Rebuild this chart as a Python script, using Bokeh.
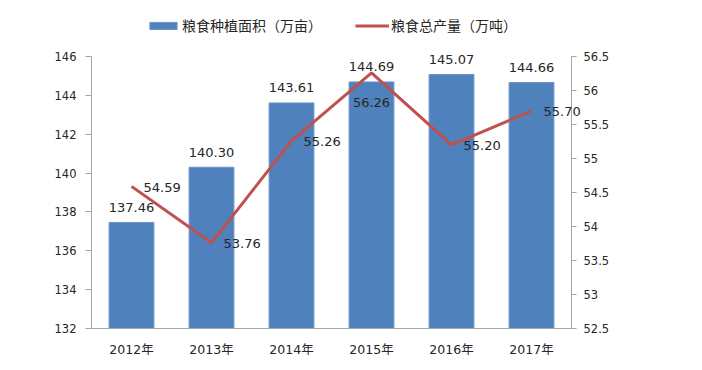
from bokeh.plotting import figure
from bokeh.models import (Range1d, LinearAxis, FactorRange, ColumnDataSource,
                          Legend, LegendItem, FixedTicker)
from bokeh.core.properties import value
from bokeh.embed import file_html
from bokeh.resources import INLINE

# ---- data ----
years = ["2012年", "2013年", "2014年", "2015年", "2016年", "2017年"]
area = [137.46, 140.30, 143.61, 144.69, 145.07, 144.66]        # 粮食种植面积（万亩）
output = [54.59, 53.76, 55.26, 56.26, 55.20, 55.70]            # 粮食总产量（万吨）
area_ticks = [132, 134, 136, 138, 140, 142, 144, 146]
output_ticks = [52.5, 53, 53.5, 54, 54.5, 55, 55.5, 56, 56.5]
output_tick_labels = ["52.5", "53", "53.5", "54", "54.5", "55", "55.5", "56", "56.5"]
area_name = "粮食种植面积（万亩）"
output_name = "粮食总产量（万吨）"

BLUE = "#4F81BD"
RED = "#C0504D"
AXIS = "#A6A6A6"
TXT = "#262626"
NUM_FONT = "DejaVu Sans"

# layout: axes span 272 px, with 56 px of headroom (legend) inside the frame
AXIS_PX = 272
HEAD_PX = 56
a_lo, a_hi = area_ticks[0], area_ticks[-1]
o_lo, o_hi = output_ticks[0], output_ticks[-1]
a_top = a_hi + HEAD_PX * (a_hi - a_lo) / AXIS_PX
o_top = o_hi + HEAD_PX * (o_hi - o_lo) / AXIS_PX

p = figure(width=702, height=370,
           x_range=FactorRange(factors=years, range_padding=0),
           y_range=Range1d(a_lo, a_top),
           output_backend="svg", toolbar_location=None,
           min_border_left=91, min_border_right=131,
           min_border_top=0, min_border_bottom=42)
p.extra_y_ranges = {"out": Range1d(o_lo, o_top)}
p.outline_line_color = None
p.grid.visible = False
p.background_fill_color = "white"

src = ColumnDataSource(dict(
    year=years, area=area, output=output,
    area_lbl=[f"{v:.2f}" for v in area],
))

bars = p.vbar(x="year", top="area", bottom=a_lo, width=0.56, source=src,
              fill_color=BLUE, line_color="#6C95C8", line_width=1)
line = p.line(x="year", y="output", y_range_name="out", source=src,
              line_color=RED, line_width=3)

# bar value labels
p.text(x="year", y="area", text="area_lbl", source=src, level="overlay",
       text_align="center", text_baseline="middle", y_offset=-15,
       text_font=value(NUM_FONT), text_font_size="13px", text_color=TXT)

# line value labels (peak label sits below the point, others to the right)
peak = 3
idx_r = [i for i in range(len(years)) if i != peak]
src_r = ColumnDataSource(dict(year=[years[i] for i in idx_r],
                              output=[output[i] for i in idx_r],
                              lbl=[f"{output[i]:.2f}" for i in idx_r]))
src_c = ColumnDataSource(dict(year=[years[peak]], output=[output[peak]],
                              lbl=[f"{output[peak]:.2f}"]))
p.text(x="year", y="output", text="lbl", source=src_r, y_range_name="out",
       level="overlay",
       text_align="left", text_baseline="middle", x_offset=12, y_offset=1,
       text_font=value(NUM_FONT), text_font_size="13px", text_color=TXT)
p.text(x="year", y="output", text="lbl", source=src_c, y_range_name="out",
       level="overlay",
       text_align="center", text_baseline="middle", y_offset=30,
       text_font=value(NUM_FONT), text_font_size="13px", text_color=TXT)

# left axis
lax = p.yaxis[0]
lax.ticker = FixedTicker(ticks=area_ticks)
lax.bounds = (a_lo, a_hi)
lax.axis_line_color = AXIS
lax.major_tick_line_color = AXIS
lax.major_tick_out = 6
lax.major_tick_in = 0
lax.minor_tick_line_color = None
lax.major_label_standoff = 9
lax.major_label_text_font = NUM_FONT
lax.major_label_text_font_size = "11.5px"
lax.major_label_text_color = TXT

# right axis
rax = LinearAxis(y_range_name="out", ticker=FixedTicker(ticks=output_ticks),
                 bounds=(o_lo, o_hi),
                 major_label_overrides=dict(zip(output_ticks, output_tick_labels)))
rax.axis_line_color = AXIS
rax.major_tick_line_color = AXIS
rax.major_tick_out = 5
rax.major_tick_in = 0
rax.minor_tick_line_color = None
rax.major_label_standoff = 7
rax.major_label_text_font = NUM_FONT
rax.major_label_text_font_size = "11.5px"
rax.major_label_text_color = TXT
p.add_layout(rax, "right")

# x axis
xax = p.xaxis[0]
xax.axis_line_color = AXIS
xax.major_tick_line_color = None
xax.major_tick_out = 0
xax.major_label_standoff = 13
xax.major_label_text_font = "DejaVu Sans, Noto Sans CJK SC"
xax.major_label_text_font_size = "12.5px"
xax.major_label_text_color = TXT

legend = Legend(items=[LegendItem(label=area_name, renderers=[bars]),
                       LegendItem(label=output_name, renderers=[line])],
                location=(55, 293), orientation="horizontal",
                glyph_width=34, glyph_height=9, label_standoff=2, spacing=33,
                padding=0, margin=0, border_line_color=None,
                background_fill_alpha=0,
                label_text_font="Noto Sans CJK SC", label_text_font_size="14px",
                label_text_color=TXT)
p.add_layout(legend, "center")

open("out.html", "w").write(file_html(p, INLINE))
